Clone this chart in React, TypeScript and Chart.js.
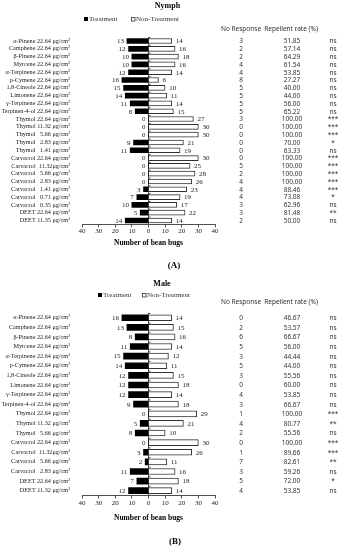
import React, { useEffect, useRef } from 'react';
import { Chart, registerables } from 'chart.js';
Chart.register(...registerables);

// ---------- Nymph data ----------
const nymphLabels = [
  'α-Pinene 22.64 μg/cm²', 'Camphene 22.64 μg/cm²', 'β-Pinene 22.64 μg/cm²', 'Myrcene 22.64 μg/cm²',
  'α-Terpinene 22.64 μg/cm²', 'p-Cymene 22.64 μg/cm²', '1,8-Cineole 22.64 μg/cm²', 'Limonene 22.64 μg/cm²',
  'γ-Terpinene 22.64 μg/cm²', 'Terpinen-4-ol 22.64 μg/cm²', 'Thymol 22.64 μg/cm²', 'Thymol 11.32 μg/cm²',
  'Thymol   5.66 μg/cm²', 'Thymol   2.83 μg/cm²', 'Thymol   1.41 μg/cm²', 'Carvacrol 22.64 μg/cm²',
  'Carvacrol  11.32μg/cm²', 'Carvacrol   5.66 μg/cm²', 'Carvacrol   2.83 μg/cm²', 'Carvacrol   1.41 μg/cm²',
  'Carvacrol   0.71 μg/cm²', 'Carvacrol   0.35 μg/cm²', 'DEET 22.64 μg/cm²', 'DEET 11.35 μg/cm²',
];
const nymphTreatment = [13, 12, 10, 10, 12, 16, 15, 14, 11, 8, 0, 0, 0, 9, 11, 0, 0, 0, 0, 3, 7, 10, 5, 14];
const nymphNonTreatment = [14, 16, 18, 16, 14, 6, 10, 11, 14, 15, 27, 30, 30, 21, 19, 30, 25, 28, 26, 23, 19, 17, 22, 14];
const nymphNoResponse = [3, 2, 2, 4, 4, 8, 5, 5, 5, 5, 3, 0, 0, 0, 0, 0, 5, 2, 4, 4, 4, 3, 3, 2];
const nymphRepellent = ['51.85', '57.14', '64.29', '61.54', '53.85', '27.27', '40.00', '44.00', '56.00', '65.22',
  '100.00', '100.00', '100.00', '70.00', '63.33', '100.00', '100.00', '100.00', '100.00', '88.46', '73.08', '62.96', '81.48', '50.00'];
const nymphSig = ['ns', 'ns', 'ns', 'ns', 'ns', 'ns', 'ns', 'ns', 'ns', 'ns', '***', '***', '***', '*', 'ns',
  '***', '***', '***', '***', '***', '*', 'ns', '**', 'ns'];

// ---------- Male data ----------
const maleLabels = [
  'α-Pinene 22.64 μg/cm²', 'Camphene 22.64 μg/cm²', 'β-Pinene 22.64 μg/cm²', 'Myrcene 22.64 μg/cm²',
  'α-Terpinene 22.64 μg/cm²', 'p-Cymene 22.64 μg/cm²', '1,8-Cineole 22.64 μg/cm²', 'Limonene 22.64 μg/cm²',
  'γ-Terpinene 22.64 μg/cm²', 'Terpinen-4-ol 22.64 μg/cm²', 'Thymol 22.64 μg/cm²', 'Thymol 11.32 μg/cm²',
  'Thymol   5.66 μg/cm²', 'Carvacrol 22.64 μg/cm²', 'Carvacrol  11.32μg/cm²', 'Carvacrol   5.66 μg/cm²',
  'Carvacrol   2.83 μg/cm²', 'DEET 22.64 μg/cm²', 'DEET 11.32 μg/cm²',
];
const maleTreatment = [16, 13, 8, 11, 15, 14, 12, 12, 12, 9, 0, 5, 8, 0, 3, 2, 11, 7, 12];
const maleNonTreatment = [14, 15, 16, 14, 12, 11, 15, 18, 14, 18, 29, 21, 10, 30, 26, 11, 16, 18, 14];
const maleNoResponse = [0, 2, 6, 5, 3, 5, 3, 0, 4, 3, 1, 4, 2, 0, 1, 7, 3, 5, 4];
const maleRepellent = ['46.67', '53.57', '66.67', '56.00', '44.44', '44.00', '55.56', '60.00', '53.85', '66.67',
  '100.00', '80.77', '55.56', '100.00', '89.66', '82.61', '59.26', '72.00', '53.85'];
const maleSig = ['ns', 'ns', 'ns', 'ns', 'ns', 'ns', 'ns', 'ns', 'ns', 'ns', '***', '**', 'ns', '***', '***', '**', 'ns', '*', 'ns'];

const xMin = -40;
const xMax = 40;
const xStep = 10;

const SERIF = '"Liberation Serif", "Times New Roman", serif';
const SANS = '"Noto Sans", "Liberation Sans", sans-serif';

type PanelCfg = {
  title: string; titleX: number; titleY: number;
  legendY: number; sq1: number; sq2: number;
  headerY: number; letter: string; letterX: number; letterY: number;
  chartTop: number; chartBottom: number; xH: number; barThickness: number;
  labels: string[]; t: number[]; n: number[]; nr: number[]; rate: string[]; sig: string[];
};

const W = 348;
const H = 275;

function Panel({ cfg }: { cfg: PanelCfg }) {
  const ref = useRef<HTMLCanvasElement | null>(null);
  useEffect(() => {
    if (!ref.current) return;
    const annot = {
      id: 'annot',
      afterDraw(chart: any) {
        const ctx = chart.ctx as CanvasRenderingContext2D;
        const xs = chart.scales.x;
        const ys = chart.scales.y;
        ctx.save();
        ctx.textBaseline = 'middle';
        // value labels
        ctx.font = `7px ${SERIF}`;
        ctx.fillStyle = '#222';
        const m0 = chart.getDatasetMeta(0);
        const m1 = chart.getDatasetMeta(1);
        m0.data.forEach((bar: any, i: number) => {
          ctx.textAlign = 'right';
          ctx.fillText(String(cfg.t[i]), bar.x - 3, bar.y + 0.5);
        });
        m1.data.forEach((bar: any, i: number) => {
          ctx.textAlign = 'left';
          ctx.fillText(String(cfg.n[i]), bar.x + 4, bar.y + 0.5);
        });
        // small ticks on central axis
        const x0 = xs.getPixelForValue(0);
        ctx.strokeStyle = '#222';
        ctx.lineWidth = 0.8;
        const band = (ys.bottom - ys.top) / cfg.labels.length;
        for (let i = 0; i < cfg.labels.length; i++) {
          const yy = ys.top + i * band + 0.5;
          ctx.beginPath();
          ctx.moveTo(x0, yy);
          ctx.lineTo(x0 + 2, yy);
          ctx.stroke();
        }
        // right columns
        ctx.font = `6.5px ${SANS}`;
        ctx.fillStyle = '#333';
        ctx.textAlign = 'center';
        ctx.fillText('No Response', 241, cfg.headerY);
        ctx.fillText('Repellent rate (%)', 291, cfg.headerY);
        cfg.labels.forEach((_, i) => {
          const yy = ys.getPixelForValue(i) + 0.5;
          ctx.fillText(String(cfg.nr[i]), 241, yy);
          ctx.fillText(cfg.rate[i], 292, yy);
          ctx.fillText(cfg.sig[i], 333, yy);
        });
        // title
        ctx.fillStyle = '#000';
        ctx.font = `bold 8px ${SERIF}`;
        ctx.fillText(cfg.title, cfg.titleX, cfg.titleY);
        // legend
        ctx.font = `7px ${SERIF}`;
        ctx.textAlign = 'left';
        ctx.fillStyle = '#000';
        ctx.fillRect(cfg.sq1, cfg.legendY - 2, 4, 4);
        ctx.fillStyle = '#333';
        ctx.fillText('Treatment', cfg.sq1 + 5, cfg.legendY);
        ctx.strokeStyle = '#333';
        ctx.lineWidth = 0.8;
        ctx.strokeRect(cfg.sq2 + 0.5, cfg.legendY - 1.5, 3.5, 3.5);
        ctx.fillText('Non-Treatment', cfg.sq2 + 5, cfg.legendY);
        // panel letter
        ctx.fillStyle = '#000';
        ctx.textAlign = 'center';
        ctx.font = `bold 9px ${SERIF}`;
        ctx.fillText(cfg.letter, cfg.letterX, cfg.letterY);
        ctx.restore();
      },
    };
    const chart = new Chart(ref.current, {
      type: 'bar',
      data: {
        labels: cfg.labels,
        datasets: [
          {
            label: 'Treatment',
            data: cfg.t.map((v) => -v),
            backgroundColor: '#000',
            borderColor: '#000',
            borderWidth: 0,
            barThickness: cfg.barThickness,
          },
          {
            label: 'Non-Treatment',
            data: cfg.n,
            backgroundColor: '#fff',
            borderColor: '#333',
            borderWidth: 1,
            barThickness: cfg.barThickness,
          },
        ],
      },
      options: {
        indexAxis: 'y',
        responsive: false,
        animation: false,
        devicePixelRatio: 1,
        layout: {
          padding: { left: 0, right: W - 215, top: cfg.chartTop, bottom: H - cfg.chartBottom - cfg.xH },
        },
        plugins: {
          legend: { display: false },
          title: { display: false },
          tooltip: { enabled: false },
        },
        scales: {
          x: {
            stacked: true,
            min: xMin,
            max: xMax,
            ticks: {
              stepSize: xStep,
              callback: (v: any) => String(Math.abs(Number(v))),
              font: { family: SERIF, size: 7 },
              color: '#222',
              padding: 0,
              maxRotation: 0,
            },
            grid: {
              color: (c: any) => (c.tick && c.tick.value === 0 ? '#222' : 'rgba(0,0,0,0)'),
              tickColor: '#222',
              tickLength: 3,
              lineWidth: 0.8,
            },
            border: { display: true, color: '#222', width: 0.8 },
            title: {
              display: true,
              text: 'Number of bean bugs',
              font: { family: SERIF, size: 7.5, weight: 'bold' },
              color: '#000',
              padding: { top: 0, bottom: 0 },
            },
            afterFit: (s: any) => { s.height = cfg.xH; },
          },
          y: {
            stacked: true,
            grid: { display: false },
            border: { display: false },
            ticks: {
              font: { family: SERIF, size: 6.2 },
              color: '#222',
              padding: 4,
              autoSkip: false,
            },
            afterFit: (s: any) => { s.width = 82; },
          },
        },
      } as any,
      plugins: [annot],
    });
    return () => chart.destroy();
  }, [cfg]);
  return <canvas ref={ref} width={W} height={H} style={{ display: 'block', width: W, height: H }} />;
}

const nymphCfg: PanelCfg = {
  title: 'Nymph', titleX: 167.5, titleY: 6,
  legendY: 19, sq1: 84, sq2: 131,
  headerY: 29, letter: '(A)', letterX: 174, letterY: 266,
  chartTop: 37.1, chartBottom: 224.4, xH: 23, barThickness: 5,
  labels: nymphLabels, t: nymphTreatment, n: nymphNonTreatment, nr: nymphNoResponse, rate: nymphRepellent, sig: nymphSig,
};

const maleCfg: PanelCfg = {
  title: 'Male', titleX: 162, titleY: 9,
  legendY: 20, sq1: 98, sq2: 142,
  headerY: 27.3, letter: '(B)', letterX: 175, letterY: 266.7,
  chartTop: 37.9, chartBottom: 220.5, xH: 27.5, barThickness: 6,
  labels: maleLabels, t: maleTreatment, n: maleNonTreatment, nr: maleNoResponse, rate: maleRepellent, sig: maleSig,
};

export default function App() {
  return (
    <div style={{ width: W, height: 550, background: '#fff' }}>
      <style>{'body{margin:0;background:#fff;}'}</style>
      <Panel cfg={nymphCfg} />
      <Panel cfg={maleCfg} />
    </div>
  );
}
